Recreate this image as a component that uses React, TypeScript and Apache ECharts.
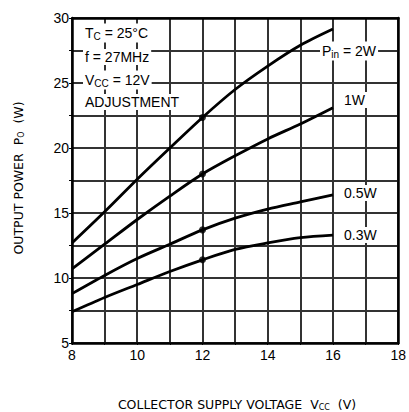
import React, { useEffect, useRef } from "react";
import * as echarts from "echarts";

const voltages = [8, 9, 10, 11, 12, 13, 14, 15, 16];
const pin2W = [12.7, 15.1, 17.6, 20.0, 22.35, 24.5, 26.3, 27.9, 29.15];
const pin1W = [10.7, 12.6, 14.5, 16.3, 18.0, 19.4, 20.7, 21.85, 23.1];
const pin05W = [8.8, 10.2, 11.5, 12.6, 13.7, 14.6, 15.3, 15.85, 16.4];
const pin03W = [7.4, 8.5, 9.5, 10.5, 11.4, 12.2, 12.7, 13.1, 13.3];
const markedVoltage = 12;

const xTicks = [8, 10, 12, 14, 16, 18];
const yTicks = [5, 10, 15, 20, 25, 30];

const FONT = "Liberation Sans, Arial, sans-serif";
const TITLE_FONT = "DejaVu Sans, sans-serif";
const GRID_LINE = { color: "#333", width: 2, type: "solid" };

export default function App() {
  const ref = useRef<HTMLDivElement>(null);
  useEffect(() => {
    if (!ref.current) return;
    const chart = echarts.init(ref.current, null, { renderer: "svg" });
    const all = [pin2W, pin1W, pin05W, pin03W];
    const idx = voltages.indexOf(markedVoltage);
    const lineSeries = all.map((vals) => ({
      type: "line",
      data: voltages.map((v, i) => [v, vals[i]]),
      smooth: 0.3,
      showSymbol: false,
      lineStyle: { color: "#000", width: 2.8 },
    }));
    const rich = {
      a: { fontSize: 14, fontFamily: FONT, color: "#000" },
      s: { fontSize: 10, fontFamily: FONT, color: "#000", padding: [7, 0, 0, 0] },
    };
    const txt = (x: number, y: number, t: string) => ({
      type: "text",
      x,
      y,
      z: 10,
      style: {
        text: t,
        rich,
        font: `14px ${FONT}`,
        fill: "#000",
        backgroundColor: "#fff",
        padding: [1, 2],
        verticalAlign: "middle",
      },
    });
    const titleRich = {
      a: { fontSize: 12.5, fontFamily: TITLE_FONT, color: "#000" },
      s: { fontSize: 8, fontFamily: TITLE_FONT, color: "#000", padding: [6, 0, 0, 0] },
    };
    chart.setOption({
      animation: false,
      grid: {
        left: 72,
        right: 9,
        top: 18,
        bottom: 69,
      },
      xAxis: [
        {
          type: "value",
          min: 8,
          max: 18,
          interval: 1,
          axisLine: { show: true, onZero: false, lineStyle: { color: "#000", width: 2.5 } },
          axisTick: { show: true, length: 2, lineStyle: { color: "#000" } },
          splitLine: { show: true, lineStyle: GRID_LINE },
          axisLabel: {
            color: "#000",
            fontSize: 14,
            fontFamily: FONT,
            margin: 5,
            formatter: (v: number) => (xTicks.includes(v) ? String(v) : ""),
          },
        },
        {
          type: "value",
          position: "top",
          min: 8,
          max: 18,
          interval: 1,
          axisLine: { show: true, onZero: false, lineStyle: { color: "#000", width: 2.5 } },
          axisTick: { show: false },
          axisLabel: { show: false },
          splitLine: { show: false },
        },
      ],
      yAxis: [
        {
          type: "value",
          min: 5,
          max: 30,
          interval: 2.5,
          axisLine: { show: true, onZero: false, lineStyle: { color: "#000", width: 2.5 } },
          axisTick: { show: true, length: 3, lineStyle: { color: "#000" } },
          splitLine: { show: true, lineStyle: GRID_LINE },
          axisLabel: {
            color: "#000",
            fontSize: 14,
            fontFamily: FONT,
            margin: 3,
            formatter: (v: number) => (yTicks.includes(v) ? String(v) : ""),
          },
        },
        {
          type: "value",
          position: "right",
          min: 5,
          max: 30,
          interval: 2.5,
          axisLine: { show: true, onZero: false, lineStyle: { color: "#000", width: 2.5 } },
          axisTick: { show: false },
          axisLabel: { show: false },
          splitLine: { show: false },
        },
      ],
      series: [
        ...lineSeries,
        {
          type: "scatter",
          data: all.map((vals) => [markedVoltage, vals[idx]]),
          symbol: "circle",
          symbolSize: 7,
          itemStyle: { color: "#000" },
        },
      ],
      graphic: [
        txt(83, 33, "{a|T}{s|C}{a| = 25°C}"),
        txt(83, 57, "{a|f = 27MHz}"),
        txt(83, 80, "{a|V}{s|CC}{a| = 12V}"),
        txt(83, 102, "{a|ADJUSTMENT}"),
        txt(320, 51, "{a|P}{s|in}{a| = 2W}"),
        txt(342, 100, "{a|1W}"),
        txt(342, 193, "{a|0.5W}"),
        txt(342, 235, "{a|0.3W}"),
        {
          type: "text",
          x: 18,
          y: 178,
          rotation: Math.PI / 2,
          style: {
            text: "{a|OUTPUT POWER  P}{s|O}{a|  (W)}",
            rich: titleRich,
            align: "center",
            verticalAlign: "middle",
          },
        },
        {
          type: "text",
          x: 237,
          y: 404,
          style: {
            text: "{a|COLLECTOR SUPPLY VOLTAGE  V}{s|CC}{a|  (V)}",
            rich: titleRich,
            align: "center",
            verticalAlign: "middle",
          },
        },
      ],
    });
    return () => chart.dispose();
  }, []);
  return <div ref={ref} style={{ width: 409, height: 412, position: "absolute", left: 0, top: 0 }} />;
}
